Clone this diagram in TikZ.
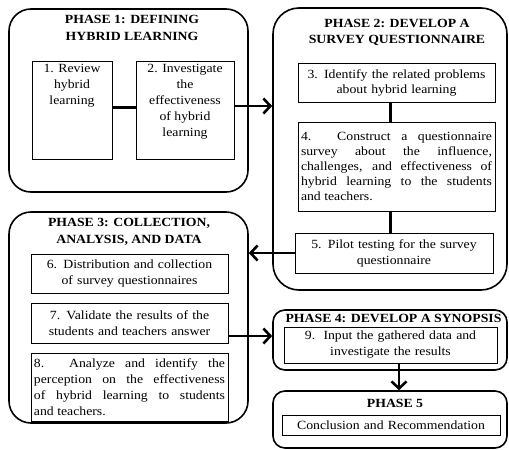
\documentclass[tikz,border=0pt]{standalone}
\usepackage{fontspec}
\setmainfont{Liberation Serif}[FakeStretch=1.1]
\usetikzlibrary{arrows.meta}
\begin{document}
\begin{tikzpicture}[x=1pt,y=-1pt,
  phase/.style={draw, line width=1.6pt, rounded corners=22pt, inner sep=0pt},
  smallphase/.style={phase, rounded corners=12pt},
  ibox/.style={draw, line width=1pt, inner sep=0pt, font=\fontsize{12.5}{16}\selectfont},
  title/.style={font=\bfseries\fontsize{12.5}{17}\selectfont, align=center, inner sep=0pt},
  conn/.style={line width=3pt},
  arr/.style={line width=2.6pt, -{Straight Barb[length=7pt,width=15pt]}}
]
\path[fill=white] (0,0) rectangle (509,450);

% Phase outlines
\node[phase, minimum width=239pt, minimum height=183pt] (p1) at (128.5,100.5) {};
\node[phase, rounded corners=26pt, minimum width=234pt, minimum height=282pt] (p2) at (390,149) {};
\node[phase, minimum width=239pt, minimum height=211pt] (p3) at (128.5,317.5) {};
\node[smallphase, minimum width=234pt, minimum height=60pt] (p4) at (390,340) {};
\node[smallphase, minimum width=234pt, minimum height=57pt] (p5) at (390,419.5) {};

% Titles
\node[title] (t1) at (132,27.5) {PHASE 1: DEFINING\\HYBRID LEARNING};
\node[title, font=\bfseries\fontsize{12.5}{15.5}\selectfont] (t2) at (397,32.5) {PHASE 2: DEVELOP A\\SURVEY QUESTIONNAIRE};
\node[title] (t3) at (129,231.5) {PHASE 3: COLLECTION,\\ANALYSIS, AND DATA};
\node[title] (t4) at (393.5,318) {PHASE 4: DEVELOP A SYNOPSIS};
\node[title] (t5) at (395,403) {PHASE 5};

% Phase 1 boxes
\node[ibox] (b1) at (72,110) {\parbox[t][98pt][t]{80pt}{\vspace*{3.5pt}\centering 1. Review\\hybrid\\learning}};
\node[ibox] (b2) at (185,110) {\parbox[t][98pt][t]{98pt}{\vspace*{3.5pt}\centering 2. Investigate\\the\\effectiveness\\of hybrid\\learning}};

% Phase 2 boxes
\node[ibox, font=\fontsize{12.5}{15}\selectfont, minimum width=197pt, minimum height=39pt, text width=191pt, align=center] (b3) at (396.5,82.5) {3. Identify the related problems\\about hybrid learning};
\node[ibox, font=\fontsize{12.5}{15}\selectfont, minimum width=197pt, minimum height=89pt, text width=191pt, align=justify] (b4) at (396.5,166.5) {4. Construct a questionnaire\linebreak survey about the influence,\linebreak challenges, and effectiveness of\linebreak hybrid learning to the students\linebreak and teachers.};
\node[ibox, minimum width=198pt, minimum height=40pt, text width=192pt, align=center] (b5) at (394,253) {5. Pilot testing for the survey\\questionnaire};

% Phase 3 boxes
\node[ibox, minimum width=197pt, minimum height=39pt, text width=191pt, align=center] (b6) at (129.5,273.5) {6. Distribution and collection\\of survey questionnaires};
\node[ibox, minimum width=197pt, minimum height=40pt, text width=191pt, align=center] (b7) at (129.5,323) {7. Validate the results of the\\students and teachers answer};
\node[ibox, minimum width=197pt, minimum height=68pt, text width=191pt, align=justify] (b8) at (129.5,387) {8. Analyze and identify the\linebreak perception on the effectiveness\linebreak of hybrid learning to students\linebreak and teachers.};

% Phase 4 and 5 boxes
\node[ibox, minimum width=213pt, minimum height=36pt, text width=207pt, align=center] (b9) at (390.5,345) {9.\ \ Input the gathered data and\\investigate the results};
\node[ibox, minimum width=218pt, minimum height=20pt, text width=212pt, align=center] (b10) at (391,425) {Conclusion and Recommendation};

% Connectors
\draw[conn] ([yshift=3pt]b1.east) -- ([yshift=3pt]b2.west);
\draw[arr] ([yshift=4pt]b2.east) -- ([yshift=4pt]b2.east -| p2.west);
\draw[conn] ([xshift=-6pt]b3.south) -- ([xshift=-6pt]b3.south |- b4.north);
\draw[conn] ([xshift=-6pt]b4.south) -- ([xshift=-6pt]b4.south |- b5.north);
\draw[arr] (b5.west) -- (b5.west -| p3.east);
\draw[arr] ([yshift=-13pt]b7.east) -- ([yshift=-13pt]b7.east -| p4.west);
\draw[arr] ([xshift=8.5pt]b9.south) -- ([xshift=8.5pt]b9.south |- p5.north);
\end{tikzpicture}
\end{document}
